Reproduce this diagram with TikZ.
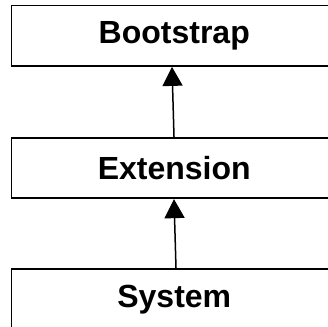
\documentclass[tikz,border=0pt]{standalone}
\usepackage{fontspec}
\setmainfont{Liberation Sans}
\usetikzlibrary{arrows.meta}
\tikzset{
  layer/.style={draw=black, line width=1.8pt, fill=white, rectangle,
    minimum width=325.5pt, minimum height=60.5pt, inner sep=0pt,
    font=\fontsize{32}{38}\selectfont\bfseries},
  uses/.style={line width=1.5pt, -{Triangle[length=19pt,width=20pt]}}
}
\begin{document}
\begin{tikzpicture}[x=1pt,y=-1pt]
  \useasboundingbox (0,0) rectangle (328,326);
  \clip (0,0) rectangle (328,326);
  \node[layer] (boot) at (174.25,35.75) {Bootstrap};
  \node[layer] (ext) at (174.25,168) {Extension};
  \node[layer, minimum height=61pt] (sys) at (174.25,299.5) {System};
  \draw[uses] ([xshift=1.75pt]sys.north) -- ([xshift=-0.25pt]ext.south);
  \draw[uses] ([xshift=-0.25pt]ext.north) -- ([xshift=-2.25pt]boot.south);
\end{tikzpicture}
\end{document}
